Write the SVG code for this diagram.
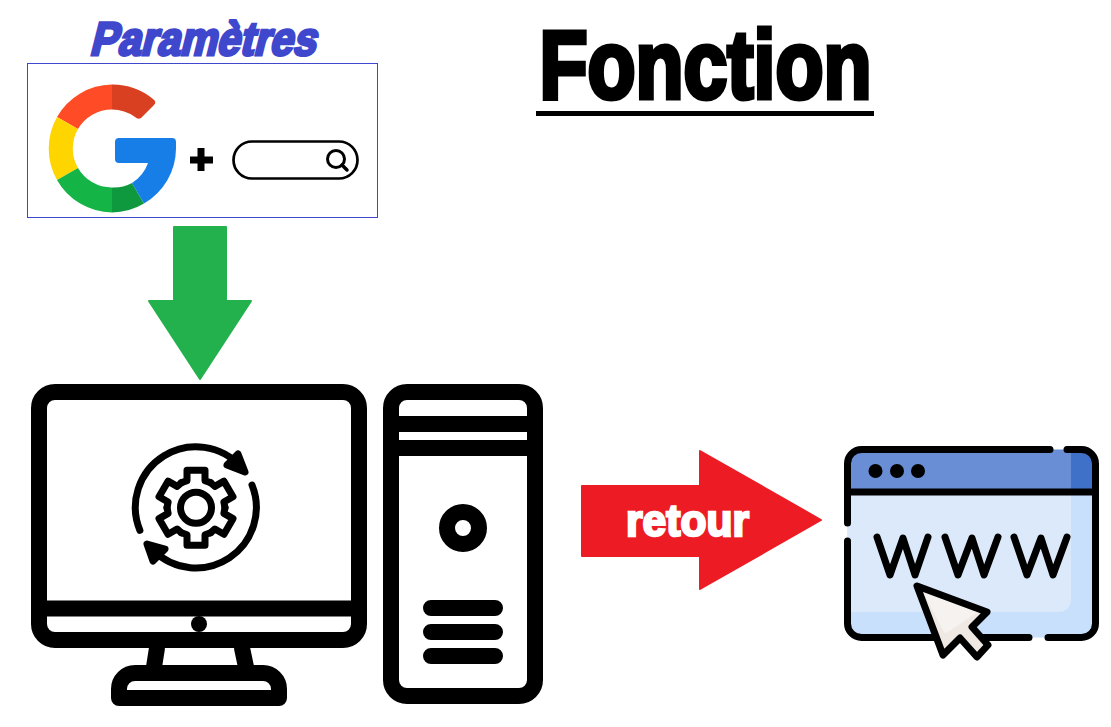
<svg xmlns="http://www.w3.org/2000/svg" xmlns:xlink="http://www.w3.org/1999/xlink" width="1111" height="727" viewBox="0 0 1111 727">
<style>
.t{font-family:"Liberation Sans",Arial,sans-serif;font-weight:700}
.k{fill:none;stroke:#000;stroke-linecap:round;stroke-linejoin:round}
.b7{stroke-width:7}
.b16{stroke-width:16}
</style>
<defs>
<path id="tooth" d="M-14.5-25.1L-9-27V-37.5H9V-27L14.5-25.1" class="k b7"/>
</defs>
<rect width="1111" height="727" fill="#fff"/>
<g id="title">
<text class="t" x="539.500" y="98" font-size="97" textLength="332" lengthAdjust="spacingAndGlyphs" stroke="#000" stroke-width="5">Fonction</text>
<rect x="536" y="111" width="338" height="5"/>
</g>
<g id="parametres">
<text class="t" transform="translate(89 54.500) skewX(-14)" font-size="47" fill="#3f48cc" stroke="#3f48cc" stroke-width="3" textLength="226" lengthAdjust="spacingAndGlyphs">Paramètres</text>
<rect x="27.500" y="63.500" width="350" height="154" fill="#fff" stroke="#3f48cc"/>
<g id="google">
<path fill="#ff4b26" d="M57 117A64 64 0 0 1 112 84.500V109.500A39 39 0 0 0 78 129Z"/>
<path fill="#d93f21" d="M112 84.500A64 64 0 0 1 153 99Q157 102 154 105L141 118Q138 120 135 117A39 39 0 0 0 112 109.500Z"/>
<path fill="#ffd500" d="M57 117A64 64 0 0 0 57 180L78 168A39 39 0 0 1 78 129Z"/>
<path fill="#14b447" d="M57 180A64 64 0 0 0 112 212.500V187.500A39 39 0 0 1 78 168Z"/>
<path fill="#0f993e" d="M112 212.500A64 64 0 0 0 144 203.500L132 183A39 39 0 0 1 112 187.500Z"/>
<path fill="#167ee6" d="M144 203.500A64 64 0 0 0 176 148.500V142Q176 138 172 138H119Q115 138 115 142V159Q115 163 119 163H148A39 39 0 0 1 132 183Z"/>
</g>
<path id="plus" d="M197.500 148h7v8.500h8.500v7h-8.500v7.500h-7v-7.500h-7.500v-7h7.500Z"/>
<g id="search">
<rect x="233.500" y="141.500" width="124" height="37" rx="18.500" fill="#fff" stroke="#000" stroke-width="2.700"/>
<circle cx="336" cy="159" r="8.500" fill="none" stroke="#000" stroke-width="3"/>
<path d="M342 165L347 170" class="k" stroke-width="3.500"/>
</g>
</g>
<g id="connectors">
<path id="arrow-down" d="M174 227H226V301H251L200 379L149 301H174Z" fill="#22b14c" stroke="#22b14c" stroke-width="2" stroke-linejoin="round"/>
<path id="arrow-right" d="M582 486H700V451L821 520L700 589V556H582Z" fill="#ed1c24" stroke="#ed1c24" stroke-width="2" stroke-linejoin="round"/>
</g>
<text class="t" x="626" y="536" font-size="45" fill="#fff" stroke="#fff" stroke-width="2.500" textLength="123" lengthAdjust="spacingAndGlyphs">retour</text>
<g id="monitor">
<rect x="39" y="392" width="320" height="248" rx="16" class="k b16"/>
<path d="M39 608.500H359" class="k b16" stroke-linecap="butt"/>
<circle cx="199" cy="624" r="8"/>
<path d="M157 648L154 667M242 648L246 667" class="k b16" stroke-linecap="butt"/>
<path d="M119 698V689A16 16 0 0 1 135 673H263A16 16 0 0 1 279 689V698Z" class="k b16"/>
<g id="gear" transform="translate(196 507.700)">
<use xlink:href="#tooth"/>
<use xlink:href="#tooth" transform="rotate(60)"/>
<use xlink:href="#tooth" transform="rotate(120)"/>
<use xlink:href="#tooth" transform="rotate(180)"/>
<use xlink:href="#tooth" transform="rotate(240)"/>
<use xlink:href="#tooth" transform="rotate(300)"/>
<circle r="15.500" class="k b7"/>
</g>
<path d="M139.900 530.300A60.500 60.500 0 0 1 241 467" class="k b7"/>
<path d="M252 485A60.500 60.500 0 0 1 153.400 550.600" class="k b7"/>
<path d="M238 454L245 472L227 465Z" class="k b7" style="fill:#000"/>
<path d="M147 544L165 549L153 561Z" class="k b7" style="fill:#000"/>
</g>
<g id="tower">
<rect x="391" y="392" width="144" height="304" rx="16" class="k b16"/>
<path d="M391 424H535M391 448H535" class="k b16" stroke-linecap="butt"/>
<circle cx="463" cy="528" r="16" class="k b16"/>
<path d="M431 608H495M431 632H495M431 656H495" class="k b16"/>
</g>
<g id="browser">
<path d="M847.500 492V463.500A14 14 0 0 1 861.500 449.500H1081.500A14 14 0 0 1 1095.500 463.500V492Z" fill="#698ed5"/>
<path d="M1071 449.500H1081.500A14 14 0 0 1 1095.500 463.500V492H1071Z" fill="#4071c9"/>
<path d="M847.500 492H1095.500V623.500A14 14 0 0 1 1081.500 637.500H861.500A14 14 0 0 1 847.500 623.500Z" fill="#c8e0fb"/>
<path d="M847.500 492H1071V600A12 12 0 0 1 1059 612H847.500Z" fill="#dbe9fb"/>
<path d="M1067 449.500H1081.500A14 14 0 0 1 1095.500 463.500V623.500A14 14 0 0 1 1081.500 637.500H1048" class="k b7"/>
<path d="M1029 637.500H861.500A14 14 0 0 1 847.500 623.500V541" class="k b7"/>
<path d="M847.500 523V463.500A14 14 0 0 1 861.500 449.500H1050" class="k b7"/>
<path d="M847.500 492H1095.500" class="k b7"/>
<circle cx="875.500" cy="471" r="7"/>
<circle cx="897" cy="471" r="7"/>
<circle cx="918" cy="471" r="7"/>
<path d="M877 537L890 575L903 538L915 575L928 537M945 537L958 575L972 538L984 575L998 537M1014 537L1027 575L1041 538L1053 575L1067 537" class="k b7"/>
<path id="cursor" d="M917 586L987 612L972 627L988 645L977 657L960 638L943 655Z" fill="#efe8e3"/>
<path d="M923 592L978 612L945 634Z" fill="#f5f2f0"/>
<path d="M917 586L987 612L972 627L988 645L977 657L960 638L943 655Z" class="k b7"/>
</g>
</svg>
